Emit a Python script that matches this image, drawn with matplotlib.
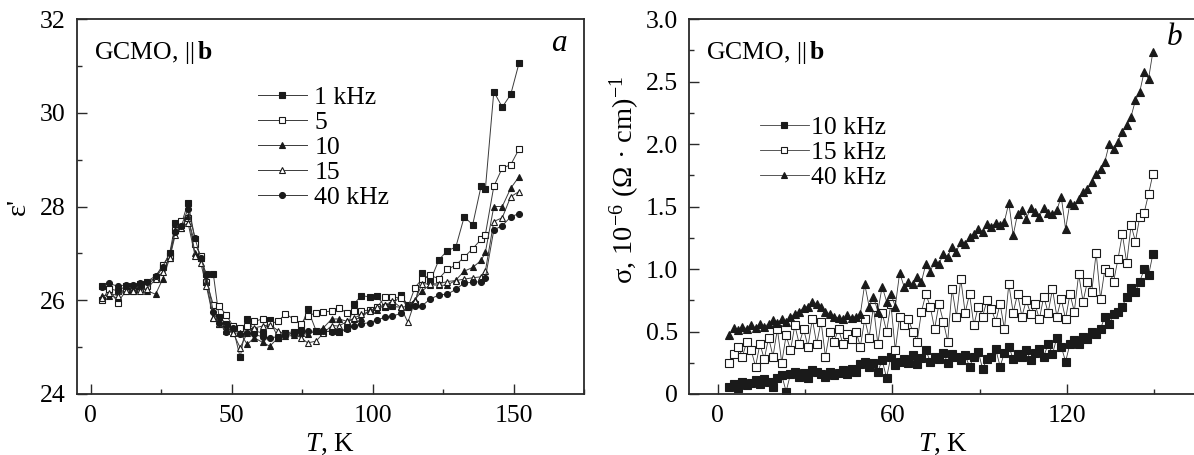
import matplotlib
matplotlib.use("Agg")
import matplotlib.pyplot as plt
from matplotlib.ticker import MultipleLocator

plt.rcParams['font.family'] = ['Liberation Serif', 'DejaVu Serif']
plt.rcParams['mathtext.fontset'] = 'custom'
plt.rcParams['mathtext.rm'] = 'Liberation Serif'
plt.rcParams['mathtext.it'] = 'Liberation Serif:italic'
plt.rcParams['mathtext.bf'] = 'Liberation Serif:bold'

# ---- panel a: eps' vs T ----
T_a = [4, 6.5, 9.5, 12.5, 15, 17.5, 20, 23, 25.5, 28,
       30, 32, 34.5, 37, 39, 41, 43.5, 45.5, 48, 50.5,
       53, 55.5, 58, 61, 63.5, 66.5, 69, 72, 74.5, 77,
       80, 82.5, 85.5, 88, 91, 93.5, 96, 99, 101.5, 104.5,
       107, 110, 112.5, 115, 117.5, 120.5, 123.5, 126.5, 129.5, 132.5,
       135.5, 138.5, 140, 143, 146, 149, 152]

eps_1k = [26.30, 26.25, 26.20, 26.30, 26.30, 26.35, 26.40, 26.47, 26.70, 27.00,
          27.65, 27.60, 28.08, 27.30, 26.90, 26.55, 26.55, 25.65, 25.50, 25.41,
          24.78, 25.60, 25.35, 25.30, 25.57, 25.20, 25.30, 25.33, 25.40, 25.81,
          25.34, 25.32, 25.35, 25.32, 25.40, 25.93, 26.10, 26.07, 26.10, 25.85,
          25.90, 26.11, 25.90, 25.92, 26.58, 26.42, 26.86, 27.06, 27.13, 27.78,
          27.61, 28.44, 28.37, 30.45, 30.12, 30.39, 31.07]
eps_5k = [26.00, 26.25, 25.95, 26.20, 26.20, 26.25, 26.30, 26.50, 26.75, 26.95,
          27.50, 27.70, 27.75, 27.20, 26.95, 26.40, 25.90, 25.88, 25.69, 25.45,
          25.40, 25.45, 25.55, 25.60, 25.50, 25.55, 25.71, 25.60, 25.50, 25.67,
          25.73, 25.75, 25.77, 25.83, 25.73, 25.76, 25.76, 25.80, 25.85, 26.07,
          26.07, 26.05, 25.85, 26.27, 26.45, 26.53, 26.46, 26.66, 26.75, 26.92,
          27.10, 27.30, 27.40, 28.43, 28.82, 28.89, 29.23]
eps_10k = [26.10, 26.10, 26.05, 26.30, 26.25, 26.30, 26.20, 26.13, 26.45, 26.90,
           27.50, 27.55, 27.80, 27.00, 26.90, 26.40, 25.62, 25.50, 25.45, 25.30,
           25.30, 25.06, 25.20, 25.10, 25.02, 25.20, 25.23, 25.25, 25.30, 25.27,
           25.35, 25.41, 25.60, 25.60, 25.55, 25.60, 25.62, 25.80, 25.80, 25.90,
           25.87, 25.85, 25.87, 26.01, 26.20, 26.33, 26.32, 26.32, 26.43, 26.62,
           26.70, 26.85, 27.02, 28.00, 28.00, 28.39, 28.64]
eps_15k = [26.05, 26.15, 26.10, 26.20, 26.20, 26.20, 26.25, 26.45, 26.60, 26.90,
           27.40, 27.55, 27.65, 26.95, 26.80, 26.30, 25.62, 25.50, 25.35, 25.30,
           24.99, 25.30, 25.41, 25.45, 25.48, 25.35, 25.27, 25.30, 25.20, 25.09,
           25.13, 25.30, 25.46, 25.45, 25.55, 25.62, 25.70, 25.76, 25.85, 25.90,
           25.98, 25.85, 25.53, 25.98, 26.35, 26.35, 26.35, 26.40, 26.42, 26.45,
           26.48, 26.50, 26.62, 27.68, 27.76, 28.21, 28.32]
eps_40k = [26.29, 26.36, 26.30, 26.33, 26.33, 26.36, 26.40, 26.52, 26.72, 27.00,
           27.45, 27.58, 27.94, 27.32, 26.90, 26.54, 25.74, 25.51, 25.33, 25.40,
           25.29, 25.30, 25.27, 25.22, 25.20, 25.22, 25.25, 25.30, 25.32, 25.34,
           25.34, 25.34, 25.33, 25.34, 25.38, 25.45, 25.50, 25.52, 25.58, 25.64,
           25.66, 25.72, 25.85, 25.87, 25.88, 26.03, 26.11, 26.13, 26.23, 26.37,
           26.38, 26.40, 26.47, 27.50, 27.59, 27.78, 27.85]

labels_a = ['1 kHz', '5', '10', '15', '40 kHz']

# ---- panel b: sigma vs T ----
T_b = [4, 5.5, 7, 8.5, 10, 11.5, 13, 14.5, 16, 17.5,
       19, 20.5, 22, 23.5, 25, 26.5, 28, 29.5, 31, 32.5,
       34, 35.5, 37, 38.5, 40, 41.5, 43, 44.5, 46, 47.5,
       49, 50.5, 52, 53.5, 55, 56.5, 58, 59.5, 61, 62.5,
       64, 65.5, 67, 68.5, 70, 71.5, 73, 74.5, 76, 77.5,
       79, 80.5, 82, 83.5, 85, 86.5, 88, 89.5, 91, 92.5,
       94, 95.5, 97, 98.5, 100, 101.5, 103, 104.5, 106, 107.5,
       109, 110.5, 112, 113.5, 115, 116.5, 118, 119.5, 121, 122.5,
       124, 125.5, 127, 128.5, 130, 131.5, 133, 134.5, 136, 137.5,
       139, 140.5, 142, 143.5, 145, 146.5, 148, 149.5]

sig_10k = [0.06, 0.08, 0.05, 0.10, 0.07, 0.09, 0.11, 0.08, 0.12, 0.10,
           0.06, 0.13, 0.15, 0.02, 0.16, 0.18, 0.14, 0.17, 0.13, 0.19,
           0.18, 0.16, 0.14, 0.18, 0.15, 0.17, 0.19, 0.16, 0.20, 0.18,
           0.24, 0.26, 0.22, 0.25, 0.18, 0.27, 0.13, 0.30, 0.23, 0.26,
           0.28, 0.25, 0.31, 0.24, 0.29, 0.35, 0.26, 0.30, 0.28, 0.33,
           0.25, 0.32, 0.30, 0.27, 0.31, 0.22, 0.30, 0.34, 0.20, 0.28,
           0.30, 0.36, 0.22, 0.33, 0.38, 0.28, 0.32, 0.30, 0.35, 0.27,
           0.33, 0.36, 0.30, 0.40, 0.32, 0.45, 0.38, 0.26, 0.40, 0.43,
           0.40, 0.46, 0.44, 0.50, 0.48, 0.52, 0.62, 0.56, 0.64, 0.66,
           0.70, 0.78, 0.85, 0.82, 0.90, 1.00, 0.95, 1.12]
sig_15k = [0.25, 0.32, 0.38, 0.30, 0.42, 0.35, 0.22, 0.40, 0.28, 0.45,
           0.30, 0.52, 0.25, 0.47, 0.35, 0.55, 0.40, 0.52, 0.38, 0.60,
           0.40, 0.58, 0.30, 0.50, 0.42, 0.52, 0.40, 0.48, 0.44, 0.50,
           0.38, 0.60, 0.45, 0.70, 0.40, 0.65, 0.50, 0.72, 0.35, 0.62,
           0.55, 0.60, 0.50, 0.42, 0.66, 0.80, 0.70, 0.52, 0.72, 0.58,
           0.42, 0.84, 0.62, 0.92, 0.65, 0.80, 0.55, 0.70, 0.62, 0.75,
           0.68, 0.58, 0.72, 0.52, 0.88, 0.65, 0.80, 0.62, 0.75, 0.64,
           0.72, 0.60, 0.78, 0.65, 0.84, 0.62, 0.76, 0.60, 0.80, 0.66,
           0.96, 0.74, 0.90, 0.82, 1.13, 0.76, 1.00, 0.98, 0.90, 1.08,
           1.28, 1.05, 1.35, 1.22, 1.42, 1.45, 1.60, 1.76]
sig_40k = [0.47, 0.53, 0.51, 0.54, 0.52, 0.55, 0.53, 0.56, 0.54, 0.56,
           0.59, 0.57, 0.60, 0.58, 0.62, 0.64, 0.66, 0.69, 0.70, 0.74,
           0.72, 0.70, 0.66, 0.64, 0.62, 0.61, 0.60, 0.63, 0.61, 0.62,
           0.64, 0.88, 0.70, 0.78, 0.66, 0.86, 0.74, 0.80, 0.70, 0.97,
           0.86, 0.90, 0.88, 0.94, 0.90, 1.04, 0.98, 1.06, 1.04, 1.12,
           1.10, 1.18, 1.14, 1.22, 1.20, 1.26, 1.28, 1.32, 1.30, 1.36,
           1.34, 1.37, 1.35, 1.38, 1.53, 1.27, 1.44, 1.47, 1.40, 1.49,
           1.46, 1.42, 1.49, 1.45, 1.44, 1.47, 1.58, 1.32, 1.53, 1.51,
           1.56, 1.62, 1.64, 1.70, 1.76, 1.80, 1.86, 2.00, 1.96, 2.02,
           2.10, 2.15, 2.22, 2.35, 2.42, 2.58, 2.52, 2.74]

labels_b = ['10 kHz', '15 kHz', '40 kHz']
yticks_b = [0, 0.5, 1.0, 1.5, 2.0, 2.5, 3.0]
yticklabels_b = ['0', '0.5', '1.0', '1.5', '2.0', '2.5', '3.0']

FS = 18.5
LINE = '#3a3a3a'
W, H = 1194, 455


def style_axes(ax):
    for s in ax.spines.values():
        s.set_linewidth(1.3)
        s.set_color('#2a2a2a')
    ax.tick_params(which='both', direction='in', top=False, right=False,
                   labelsize=FS, color='#2a2a2a', pad=8)
    ax.tick_params(which='major', length=7, width=1.0)
    ax.tick_params(which='minor', length=3.5, width=1.0)


fig = plt.figure(figsize=(W / 100, H / 100), dpi=100)
ax1 = fig.add_axes([76.7 / W, 61 / H, 507.3 / W, 375 / H])
ax2 = fig.add_axes([689.3 / W, 61 / H, 506.7 / W, 375 / H])

# panel a
series_a = [eps_1k, eps_5k, eps_10k, eps_15k, eps_40k]
markers_a = ['s', 's', '^', '^', 'o']
faces_a = ['#1a1a1a', 'white', '#1a1a1a', 'white', '#1a1a1a']
for vals, m, fc, lab in zip(series_a, markers_a, faces_a, labels_a):
    ax1.plot(T_a, vals, color=LINE, lw=0.7, marker=m, ms=4.3,
             mfc=fc, mec='#1a1a1a', mew=0.8, label=lab)

ax1.set_xlim(-5, 175)
ax1.set_ylim(24, 32)
ax1.xaxis.set_major_locator(MultipleLocator(50))
ax1.xaxis.set_minor_locator(MultipleLocator(25))
ax1.yaxis.set_major_locator(MultipleLocator(2))
ax1.yaxis.set_minor_locator(MultipleLocator(1))
style_axes(ax1)
ax1.set_xlabel('$T$, K', fontsize=FS + 1)
ax1.xaxis.set_label_coords(0.5, -0.10)
ax1.xaxis.label.set_va('top')
ax1.set_ylabel("ε'", fontsize=FS + 2)
ax1.yaxis.set_label_coords(-0.09, 0.5)
ax1.text(0.034, 0.91, r'GCMO, $||\,\mathbf{b}$', transform=ax1.transAxes,
         fontsize=FS, va='center', ha='left')
ax1.text(0.95, 0.935, 'a', transform=ax1.transAxes, fontsize=FS + 4,
         style='italic', va='center', ha='center')
ax1.legend(loc='upper left', bbox_to_anchor=(0.357, 0.822), frameon=False,
           fontsize=FS, handlelength=1.9, handletextpad=0.3,
           labelspacing=0.08, borderpad=0, borderaxespad=0, numpoints=1)

# panel b
series_b = [sig_10k, sig_15k, sig_40k]
markers_b = ['s', 's', '^']
faces_b = ['#1a1a1a', 'white', '#1a1a1a']
for vals, m, fc, lab in zip(series_b, markers_b, faces_b, labels_b):
    ax2.plot(T_b, vals, color=LINE, lw=0.6, marker=m, ms=5.6,
             mfc=fc, mec='#1a1a1a', mew=0.8, label=lab)

ax2.set_xlim(-9.76, 164.3)
ax2.set_ylim(0, 3)
ax2.xaxis.set_major_locator(MultipleLocator(60))
ax2.xaxis.set_minor_locator(MultipleLocator(30))
ax2.set_yticks(yticks_b)
ax2.set_yticklabels(yticklabels_b)
ax2.yaxis.set_minor_locator(MultipleLocator(0.25))
style_axes(ax2)
ax2.set_xlabel('$T$, K', fontsize=FS + 1)
ax2.xaxis.set_label_coords(0.5, -0.10)
ax2.xaxis.label.set_va('top')
ax2.set_ylabel(r'σ, 10$^{-6}$ (Ω · cm)$^{-1}$', fontsize=FS + 2)
ax2.yaxis.set_label_coords(-0.093, 0.57)
ax2.text(0.032, 0.91, r'GCMO, $||\,\mathbf{b}$', transform=ax2.transAxes,
         fontsize=FS, va='center', ha='left')
ax2.text(0.958, 0.95, 'b', transform=ax2.transAxes, fontsize=FS + 4,
         style='italic', va='center', ha='center')
ax2.legend(loc='upper left', bbox_to_anchor=(0.139, 0.742), frameon=False,
           fontsize=FS, handlelength=1.9, handletextpad=0.08,
           labelspacing=0.08, borderpad=0, borderaxespad=0, numpoints=1,
           markerscale=0.75)

fig.savefig('out.png', dpi=100)
